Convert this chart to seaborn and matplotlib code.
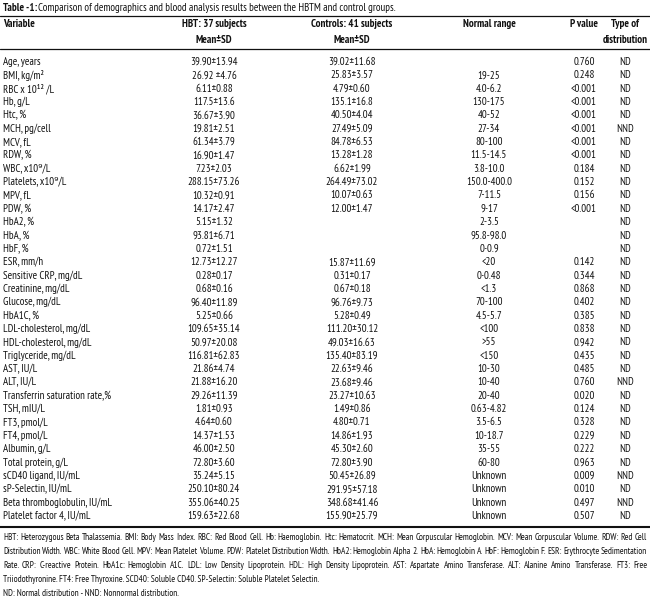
import numpy as np
import pandas as pd
import matplotlib
matplotlib.use('Agg')
import matplotlib.pyplot as plt
from matplotlib import font_manager as fm
import seaborn as sns

variables = ['Age, years', 'BMI, kg/m²', 'RBC x 10¹² /L', 'Hb, g/L', 'Htc, %',
             'MCH, pg/cell', 'MCV, fL', 'RDW, %', 'WBC, x10⁹/L', 'Platelets, x10⁹/L',
             'MPV, fL', 'PDW, %', 'HbA2, %', 'HbA, %', 'HbF, %', 'ESR, mm/h',
             'Sensitive CRP, mg/dL', 'Creatinine, mg/dL', 'Glucose, mg/dL', 'HbA1C, %',
             'LDL-cholesterol, mg/dL', 'HDL-cholesterol, mg/dL', 'Triglyceride, mg/dL',
             'AST, IU/L', 'ALT, IU/L', 'Transferrin saturation rate,%', 'TSH, mIU/L',
             'FT3, pmol/L', 'FT4, pmol/L', 'Albumin, g/L', 'Total protein, g/L',
             'sCD40 ligand, IU/mL', 'sP-Selectin, IU/mL', 'Beta thromboglobulin, IU/mL',
             'Platelet factor 4, IU/mL']
hbt = ['39.90±13.94', '26.92 ±4.76', '6.11±0.88', '117.5±13.6', '36.67±3.90',
       '19.81±2.51', '61.34±3.79', '16.90±1.47', '7.23±2.03', '288.15±73.26',
       '10.32±0.91', '14.17±2.47', '5.15±1.32', '93.81±6.71', '0.72±1.51',
       '12.73±12.27', '0.28±0.17', '0.68±0.16', '96.40±11.89', '5.25±0.66',
       '109.65±35.14', '50.97±20.08', '116.81±62.83', '21.86±4.74', '21.88±16.20',
       '29.26±11.39', '1.81±0.93', '4.64±0.60', '14.37±1.53', '46.00±2.50',
       '72.80±3.60', '35.24±5.15', '250.10±80.24', '355.06±40.25', '159.63±22.68']
controls = ['39.02±11.68', '25.83±3.57', '4.79±0.60', '135.1±16.8', '40.50±4.04',
            '27.49±5.09', '84.78±6.53', '13.28±1.28', '6.62±1.99', '264.49±73.02',
            '10.07±0.63', '12.00±1.47', '', '', '',
            '15.87±11.69', '0.31±0.17', '0.67±0.18', '96.76±9.73', '5.28±0.49',
            '111.20±30.12', '49.03±16.63', '135.40±83.19', '22.63±9.46', '23.68±9.46',
            '23.27±10.63', '1.49±0.86', '4.80±0.71', '14.86±1.93', '45.30±2.60',
            '72.80±3.90', '50.45±26.89', '291.95±57.18', '348.68±41.46', '155.90±25.79']
normal_range = ['', '19-25', '4.0-6.2', '130-175', '40-52', '27-34', '80-100', '11.5-14.5',
                '3.8-10.0', '150.0-400.0', '7-11.5', '9-17', '2-3.5', '95.8-98.0', '0-0.9',
                '<20', '0-0.48', '<1.3', '70-100', '4.5-5.7', '<100', '>55', '<150',
                '10-30', '10-40', '20-40', '0.63-4.82', '3.5-6.5', '10-18.7', '35-55',
                '60-80', 'Unknown', 'Unknown', 'Unknown', 'Unknown']
p_values = ['0.760', '0.248', '<0.001', '<0.001', '<0.001', '<0.001', '<0.001', '<0.001',
            '0.184', '0.152', '0.156', '<0.001', '', '', '',
            '0.142', '0.344', '0.868', '0.402', '0.385', '0.838', '0.942', '0.435',
            '0.485', '0.760', '0.020', '0.124', '0.328', '0.229', '0.222',
            '0.963', '0.009', '0.010', '0.497', '0.507']
distribution = ['ND', 'ND', 'ND', 'ND', 'ND', 'NND', 'ND', 'ND', 'ND', 'ND', 'ND', 'ND',
                'ND', 'ND', 'ND', 'ND', 'ND', 'ND', 'ND', 'ND', 'ND', 'ND', 'ND', 'ND',
                'NND', 'ND', 'ND', 'ND', 'ND', 'ND', 'ND', 'NND', 'ND', 'NND', 'ND']

headers = [('Variable', ''), ('HBT: 37 subjects', 'Mean±SD'),
           ('Controls: 41 subjects', 'Mean±SD'), ('Normal range', ''),
           ('P value', ''), ('Type of', 'distribution')]

footnotes = [
    'HBT: Heterozygous Beta Thalassemia. BMI: Body Mass Index. RBC: Red Blood Cell. Hb: Haemoglobin. Htc: Hematocrit. MCH: Mean Corpuscular Hemoglobin. MCV: Mean Corpuscular Volume. RDW: Red Cell',
    'Distribution Width. WBC: White Blood Cell. MPV: Mean Platelet Volume. PDW: Platelet Distribution Width. HbA2: Hemoglobin Alpha 2. HbA: Hemoglobin A. HbF: Hemoglobin F. ESR: Erythrocyte Sedimentation',
    'Rate. CRP: C-reactive Protein. HbA1c: Hemoglobin A1C. LDL: Low Density Lipoprotein. HDL: High Density Lipoprotein. AST: Aspartate Amino Transferase. ALT: Alanine Amino Transferase. FT3: Free',
    'Triiodothyronine. FT4: Free Thyroxine. SCD40: Soluble CD40. SP-Selectin: Soluble Platelet Selectin.',
    'ND: Normal distribution - NND: Nonnormal distribution.',
]

df = pd.DataFrame({'variable': variables, 'hbt': hbt, 'controls': controls,
                   'normal': normal_range, 'p': p_values, 'dist': distribution})

# pick a condensed sans that is installed
available = {f.name for f in fm.fontManager.ttflist}
candidates = ['PT Sans Narrow', 'Fira Sans Condensed', 'Roboto Condensed', 'Liberation Sans Narrow',
              'Archivo Narrow', 'Encode Sans Condensed', 'Asap Condensed', 'IBM Plex Sans Condensed',
              'Open Sans Condensed', 'Barlow Semi Condensed']
narrow = next((c for c in candidates if c in available), 'DejaVu Sans')

sns.set_theme(style='white')
plt.rcParams['font.family'] = [narrow, 'DejaVu Sans']

fig = plt.figure(figsize=(6.5, 6.03), dpi=100)
ax = fig.add_axes([0, 0, 1, 1])
ax.set_xlim(0, 650)
ax.set_ylim(603, 0)
ax.axis('off')

fs = 7.8
col_x = [3, 214, 352, 489, 584, 625]
col_ha = ['left', 'center', 'center', 'center', 'center', 'center']
row_y0, row_h = 62, 13.35
ink = '#111111'

fig.canvas.draw()
r = fig.canvas.get_renderer()

# title
t = ax.text(3, 8, 'Table -1:', fontsize=fs, fontweight='bold', va='center', ha='left', color=ink)
bb = t.get_window_extent(r)
ax.text(3 + bb.width + 1, 8, 'Comparison of demographics and blood analysis results between the HBTM and control groups.',
        fontsize=fs, va='center', ha='left', color=ink)

ax.axhline(16, color=ink, lw=0.9)
for (h1, h2), x, ha in zip(headers, col_x, col_ha):
    ax.text(x, 24, h1, fontsize=fs, fontweight='bold', ha=ha, va='center', color=ink)
    ax.text(x, 40, h2, fontsize=fs, fontweight='bold', ha=ha, va='center', color=ink)
ax.axhline(49, color=ink, lw=0.9)

for i, row in df.iterrows():
    y = row_y0 + i * row_h
    for key, x, ha in zip(['variable', 'hbt', 'controls', 'normal', 'p', 'dist'], col_x, col_ha):
        ax.text(x, y, row[key], fontsize=fs, ha=ha, va='center', color=ink)

ax.axhline(row_y0 + len(df) * row_h - 2.5, color=ink, lw=1.5)

# footnotes: first three lines justified to the full width
foot_y0 = row_y0 + len(df) * row_h + 8
x0, x1 = 3, 647


def line_width(words, size):
    arts = [ax.text(0, 0, w, fontsize=size) for w in words]
    widths = [a.get_window_extent(r).width for a in arts]
    for a in arts:
        a.remove()
    return widths


foot_fs = 7.4
while foot_fs > 5:
    ok = all(sum(line_width(l.split(' '), foot_fs)) + 1.3 * (len(l.split(' ')) - 1) <= x1 - x0
             for l in footnotes[:3])
    if ok:
        break
    foot_fs -= 0.1

for j, line in enumerate(footnotes):
    y = foot_y0 + j * 14.1
    if j < 3:
        words = line.split(' ')
        widths = line_width(words, foot_fs)
        gap = (x1 - x0 - sum(widths)) / (len(words) - 1)
        x = x0
        for w, wd in zip(words, widths):
            ax.text(x, y, w, fontsize=foot_fs, ha='left', va='center', color=ink)
            x += wd + gap
    else:
        ax.text(x0, y, line, fontsize=foot_fs, ha='left', va='center', color=ink)

fig.savefig('out.png', dpi=100, facecolor='white')
